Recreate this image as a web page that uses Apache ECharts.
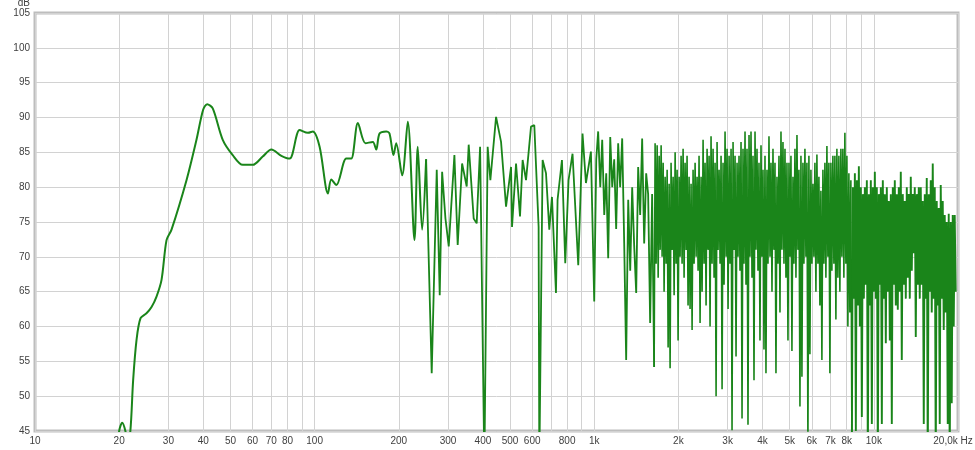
<!DOCTYPE html>
<html><head><meta charset="utf-8">
<script src="https://cdn.jsdelivr.net/npm/echarts@6/dist/echarts.min.js"></script>
<style>html,body{margin:0;padding:0;background:#fff}#c{width:975px;height:450px}</style>
</head><body><div id="c"></div>
<script>
// Frequency grid lines (Hz)
const gridFreqs = [10,20,30,40,50,60,70,80,90,100,200,300,400,500,600,700,800,900,
  1000,2000,3000,4000,5000,6000,7000,8000,9000,10000,20000];
// Labelled frequencies and their texts
const labelFreqs = [10,20,30,40,50,60,70,80,100,200,300,400,500,600,800,1000,
  2000,3000,4000,5000,6000,7000,8000,10000,20000];
const labelTexts = ['10','20','30','40','50','60','70','80','100','200','300','400','500','600','800','1k',
  '2k','3k','4k','5k','6k','7k','8k','10k','20,0k Hz'];
// dB axis
const yMin = 45, yMax = 105, yStep = 5;

// Low-frequency (smooth) part
const lowFreq = [19.5,20.0,20.5,21.05,21.4,21.93,22.44,23.08,23.85,25.05,26.11,27.2,28.35,29.54,30.78,
  34.82,37.8,39.93,41.26,43.22,46.93,50.95,55.33,60.06,65.22,70.04,76.05,81.41,88.4,94.65,98.6,
  104.2,111.6,114.7,119.6,129.8,135.2,142.8,152.1,161.5,166.1,170.7,180.4,185.3,191.5,195.8,
  205.7,215.4,227.6,233.8,242.4,250.5];
const lowDb = [40,45,46.2,45,43,45,52.3,58.1,61.2,61.9,62.8,64.3,66.7,72.4,73.9,
  81.0,86.8,91.1,91.9,91.3,86.8,84.6,83.2,83.2,84.4,85.4,84.5,84.1,88.2,87.8,88.0,
  85.8,79.1,81.1,80.3,84.1,84.1,89.2,86.3,86.5,85.4,87.7,88.0,87.7,84.6,86.3,
  81.7,89.4,72.4,85.8,73.9,84.0];

// Mid part (250 Hz - 1.64 kHz)
const midFreq = [250.5,262.3,273.4,280.2,285.8,293.7,301.8,316.2,324.9,336.9,349.9,355.7,370.6,379.9,390.7,
  404.7,415.8,425.2,445.6,464.3,483.8,504.1,508.2,525.3,542.8,554.6,570.3,594.2,610.6,632.6,636.3,
  653.8,672.3,690.8,706.2,729.8,739.5,766.7,787.8,809.4,836.5,876.8,908.2,934.1,973.2,
  1000,1017,1033,1051,1068,1086,1104,1122,1141,1160,1179,1198,1218,1238,1259,1280,1301,1323,1345,1367,
  1390,1413,1436,1460,1484,1509,1534,1559,1585,1611,1638];
const midDb = [84.0,53.3,82.5,64.5,82.2,75.5,71.5,84.6,71.7,83.4,80.1,86.1,75.5,74.8,85.8,
  40,85.8,81.0,90.1,86.5,77.2,82.9,74.3,83.4,75.8,83.9,81.0,88.7,88.9,74.3,40,
  83.9,82.0,73.9,78.6,64.8,78.2,83.9,69.1,81.0,84.8,68.8,87.7,80.6,85.1,
  63.6,84,88.0,80,86.8,76,82,69.8,87.2,80,84,74,86.3,80,87.0,72,55.2,78.2,68,80,
  71.5,64.8,82.9,76,87.0,71.9,82,79,60.5,79,54.2];

// Dense high-frequency part (1.65 kHz - 19.6 kHz)
const denseFreq = [1651,1665,1679,1693,1707,1721,1735,1749,1764,1778,
  1793,1808,1823,1838,1853,1868,1883,1899,1915,1931,
  1947,1963,1979,1995,2012,2028,2045,2062,2079,2096,
  2113,2131,2148,2166,2184,2202,2220,2239,2257,2276,
  2295,2314,2333,2352,2371,2391,2411,2431,2451,2471,
  2491,2512,2533,2554,2575,2596,2617,2639,2661,2683,
  2705,2728,2750,2773,2796,2819,2842,2866,2889,2913,
  2937,2962,2986,3011,3036,3061,3086,3111,3137,3162,
  3189,3215,3242,3268,3295,3322,3350,3378,3405,3433,
  3462,3490,3519,3548,3578,3607,3637,3667,3697,3728,
  3759,3790,3821,3852,3884,3916,3949,3981,4014,4047,
  4081,4114,4148,4183,4217,4252,4287,4323,4358,4394,
  4431,4467,4504,4541,4579,4617,4655,4693,4732,4771,
  4811,4850,4890,4931,4972,5012,5054,5095,5138,5179,
  5223,5266,5310,5353,5398,5442,5487,5532,5578,5623,
  5670,5717,5764,5811,5859,5908,5957,6006,6055,6105,
  6156,6207,6258,6310,6362,6414,6467,6521,6575,6629,
  6684,6739,6795,6851,6907,6964,7022,7080,7138,7197,
  7257,7317,7377,7438,7499,7561,7624,7687,7750,7814,
  7879,7944,8010,8076,8143,8210,8277,8346,8415,8483,
  8554,8624,8696,8767,8840,8912,8986,9060,9135,9211,
  9287,9363,9441,9519,9597,9677,9756,9837,9918,10000,
  10083,10166,10250,10335,10420,10506,10593,10681,10768,10857,
  10947,11037,11128,11221,11313,11407,11500,11596,11691,11788,
  11885,11983,12082,12182,12282,12384,12486,12589,12693,12799,
  12904,13011,13118,13226,13335,13446,13556,13669,13782,13895,
  14010,14126,14243,14360,14479,14598,14719,14840,14963,15087,
  15211,15337,15463,15591,15720,15849,15980,16112,16245,16380,
  16515,16651,16788,16927,17067,17208,17350,17493,17638,17784,
  17930,18079,18227,18378,18530,18683,18837,18993,19149,19307,
  19466,19627];
const denseDb = [86.3,69,86,67,84.5,71,86,70,83.5,65,
  81.5,69,82.5,57,80.5,54,83.5,71,81.5,64.5,
  85,69,82.5,58,81.5,70,84.5,69,85.5,67,
  83.5,71,84.5,63,81.5,62.5,80.5,59.5,82.5,69,
  83.5,70,81.5,68,84.5,60.5,81.5,65,86.8,69,
  83.5,63,85.5,71,84.5,60,87.3,69,85.5,67,
  83.5,50,86.5,71,82.5,69,84.5,51,83.5,66,
  88,70,85.5,62.5,84.5,69,85.5,45.1,86.5,71,
  84.5,55.7,83.5,70,84.5,68,86.5,46.8,85.5,69,
  88,66,85.5,45.9,87.5,70,88,67,84.5,52.3,
  88,71,85.5,68,83.5,58,86,70,82.5,56.7,
  84.5,53.3,82.5,69,87.3,70,83.5,65,85.5,71,
  83.5,53.3,81.5,69,84.5,62,88,71,86.5,69,
  85.5,67,83.5,58,83.5,70,84.5,56.5,81.5,69,
  85.5,67,87.5,71,82.5,48.5,84.5,52.8,83.5,69,
  85.5,70,83.5,43,84.5,56,82.5,69,80.5,70,
  83.5,65,84.7,69,81.5,63,79.5,55.2,82.5,69,
  83.5,67,85.9,70,83.5,53.3,83.5,68,84.5,69,
  84.5,61,85.5,67,84.5,65,85.5,70,85.5,67,
  87.8,69,84.5,60,82,62,81,44,80,64,
  82,45,81,63,83,60,80,47,79,64,
  80,66,81,40,79,63,81,46,80,65,
  82.2,64,80,40,79,66,80,46,81,64,
  79,57.6,80,65,78,58,79,46,80,66,
  81,63,79,62.4,80,65,82.2,55.2,79,66,
  78,64,80,67,79,64,81.5,68,79,70.5,
  80,58.5,79,66,80,64,80,66,78,46,
  79,64,81.3,40,79,65,81,62,83.4,64,
  80,40,78,63,77,46,80.3,64,78,59.5,
  76,62,75,46,76.2,40,75,49,76,60,
  76,65];

const FONT = 'Arial, "Liberation Sans", sans-serif';
const GREEN = '#1a851a';
const TEXT = '#404040';
const SPLIT_HZ = 8346;

function labelFor(v) {
  for (let i = 0; i < labelFreqs.length; i++) {
    if (Math.abs(v - labelFreqs[i]) / labelFreqs[i] < 1e-6) {
      return i === labelFreqs.length - 1 ? '{last|' + labelTexts[i] + '}' : labelTexts[i];
    }
  }
  return '';
}

const pairs = (fs, ds) => fs.map((f, i) => [f, ds[i]]);
const lowData = pairs(lowFreq, lowDb);
const midData = pairs(midFreq, midDb);
const densePairs = pairs(denseFreq, denseDb);
const denseA = [midData[midData.length - 1]].concat(densePairs.filter(p => p[0] <= SPLIT_HZ));
const denseB = densePairs.filter(p => p[0] >= SPLIT_HZ);

function lineSeries(data, width, smooth) {
  return {type: 'line', data: data, smooth: smooth, showSymbol: false, symbol: 'none', clip: true,
    lineStyle: {color: GREEN, width: width}, itemStyle: {color: GREEN}, z: 3};
}

const chart = echarts.init(document.getElementById('c'), null, {renderer: 'canvas'});
chart.setOption({
  backgroundColor: '#ffffff',
  animation: false,
  grid: {left: 35, right: 17, top: 13, bottom: 19, show: true,
    borderColor: '#bdbdbd', borderWidth: 3, backgroundColor: '#ffffff',
    outerBoundsMode: 'none', containLabel: false},
  xAxis: {
    type: 'log', logBase: 10, min: 10, max: 20000,
    axisLine: {show: false},
    axisTick: {show: false, customValues: gridFreqs},
    splitLine: {show: true, lineStyle: {color: '#d2d2d2', width: 1}},
    minorSplitLine: {show: false},
    axisLabel: {show: true, customValues: labelFreqs, formatter: labelFor,
      color: TEXT, fontSize: 10, fontFamily: FONT, margin: 5,
      hideOverlap: false, showMinLabel: true, showMaxLabel: true,
      rich: {last: {color: TEXT, fontSize: 10, fontFamily: FONT, padding: [0, 10, 0, 0]}}}
  },
  yAxis: {
    type: 'value', min: yMin, max: yMax, interval: yStep,
    name: 'dB', nameLocation: 'end', nameGap: 0,
    nameTextStyle: {color: TEXT, fontSize: 10, fontFamily: FONT, align: 'right', padding: [0, 5, 0, 0]},
    axisLine: {show: false}, axisTick: {show: false},
    splitLine: {show: true, lineStyle: {color: '#d2d2d2', width: 1}},
    axisLabel: {color: TEXT, fontSize: 10, fontFamily: FONT, margin: 5}
  },
  series: [
    lineSeries(lowData, 2, 0.3),
    lineSeries(midData, 1.8, false),
    lineSeries(denseA, 1.6, false),
    lineSeries(denseB, 1.9, false)
  ]
});
</script>
</body></html>
